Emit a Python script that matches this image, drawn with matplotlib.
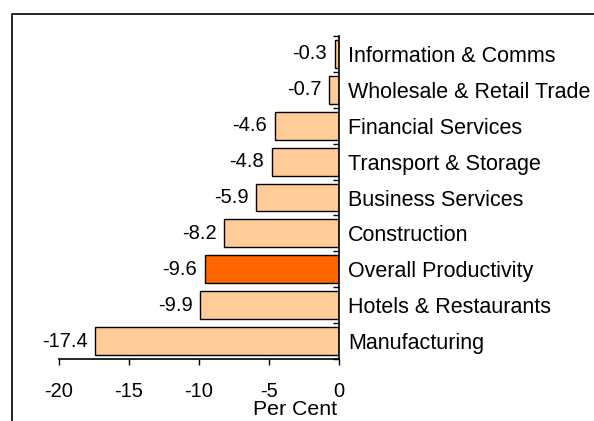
import matplotlib
matplotlib.use("Agg")
import matplotlib.pyplot as plt
from matplotlib.patches import Rectangle
import numpy as np

plt.rcParams['font.family'] = ['Liberation Sans', 'DejaVu Sans']

sectors = ["Information & Comms", "Wholesale & Retail Trade", "Financial Services",
           "Transport & Storage", "Business Services", "Construction",
           "Overall Productivity", "Hotels & Restaurants", "Manufacturing"]
values = [-0.3, -0.7, -4.6, -4.8, -5.9, -8.2, -9.6, -9.9, -17.4]
highlight = "Overall Productivity"
xticks = [-20, -15, -10, -5, 0]

W, H = 594, 421
fig = plt.figure(figsize=(W / 100, H / 100), dpi=100)
# outer frame, cut by the image edges on the right and bottom
fig.patches.append(Rectangle((12 / W, -0.1), 1.2, 1 - 14 / H + 0.1, transform=fig.transFigure,
                             fill=False, edgecolor='black', linewidth=1.2))

ax = fig.add_axes([59 / W, 1 - 359 / H, (339 - 59) / W, (359 - 36) / H])
pos = np.arange(len(sectors))
colors = ['#FF6600' if s == highlight else '#FFCC99' for s in sectors]
ax.barh(pos, values, height=0.78, color=colors, edgecolor='black', linewidth=1)

for p, v in zip(pos, values):
    ax.annotate("%.1f" % v, (v, p), xytext=(-5.5, 0), textcoords='offset points',
                ha='right', va='center', fontsize=14.5)

ax.set_xlim(-20, 0)
ax.set_ylim(len(sectors) - 0.5, -0.5)
ax.set_xticks(xticks)
ax.set_xticklabels([str(t) for t in xticks], fontsize=14.5)
ax.tick_params(axis='x', direction='out', length=4.5, width=1, pad=12)

ax.yaxis.tick_right()
ax.set_yticks(pos)
ax.set_yticklabels(sectors, fontsize=15.5)
ax.set_yticks(np.arange(-0.5, len(sectors)), minor=True)
ax.tick_params(axis='y', which='major', length=0, pad=6.5)
ax.tick_params(axis='y', which='minor', direction='in', length=4.5, width=1)

for s in ['top', 'left']:
    ax.spines[s].set_visible(False)
ax.spines['bottom'].set_bounds(-20, 0)
ax.spines['right'].set_linewidth(1.2)
ax.spines['bottom'].set_linewidth(1.2)

fig.text(295 / W, 1 - 415 / H, "Per Cent", ha='center', va='baseline', fontsize=15.3)

fig.savefig("out.png", dpi=100)
